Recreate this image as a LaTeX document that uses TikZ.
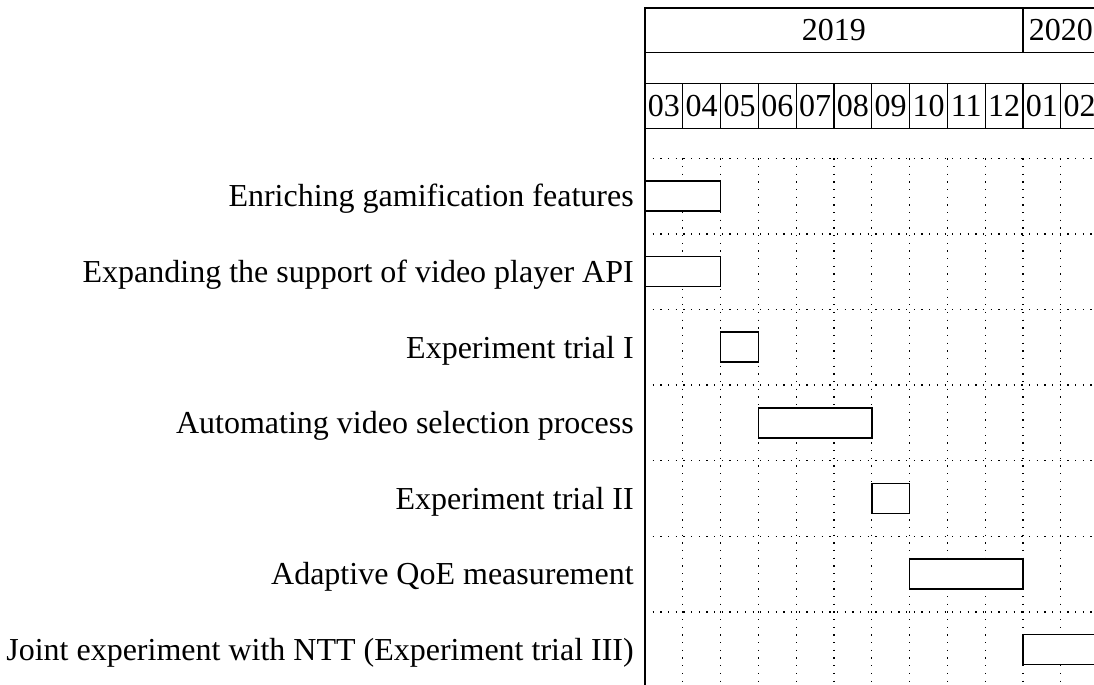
\documentclass[tikz,border=0pt]{standalone}
\usepackage{fontspec}
\setmainfont{Liberation Serif}
\usetikzlibrary{positioning}

\begin{document}
\begin{tikzpicture}[x=0.3125pt, y=-0.3125pt,
    task/.style={anchor=east, font=\fontsize{10}{12}\selectfont, text height=0.7em, text depth=0.2em,
                 yshift=-0.9pt},
    year/.style={rectangle, draw, inner sep=0pt, outer sep=0pt, minimum height=13.97pt,
                 font=\fontsize{10}{12}\selectfont},
    month/.style={rectangle, draw, inner sep=0pt, outer sep=0pt, minimum width=11.8125pt,
                  minimum height=14.06pt, font=\fontsize{10}{12}\selectfont},
    bar/.style={draw, fill=white, line width=0.5pt},
    gridline/.style={dotted, line width=0.4pt}]
    \useasboundingbox (0,0) rectangle (1094,685);

    % Years
    \node[year, minimum width=118.125pt] (y2019) at (833.9, 30.35) {2019};
    \node[year, minimum width=23.625pt] (y2020) at (1060.8, 30.35) {2020};

    % Months
    \node[month] (m03) at (663.9, 105.8) {03};
    \node[month] (m04) at (701.7, 105.8) {04};
    \node[month] (m05) at (739.5, 105.8) {05};
    \node[month] (m06) at (777.3, 105.8) {06};
    \node[month] (m07) at (815.1, 105.8) {07};
    \node[month] (m08) at (852.9, 105.8) {08};
    \node[month] (m09) at (890.7, 105.8) {09};
    \node[month] (m10) at (928.5, 105.8) {10};
    \node[month] (m11) at (966.3, 105.8) {11};
    \node[month] (m12) at (1004.1, 105.8) {12};
    \node[month] (m01) at (1041.9, 105.8) {01};
    \node[month] (m02) at (1079.7, 105.8) {02};

    % Grid
    \draw[gridline] (645,158.3) -- (1098.6,158.3)
                    (645,233.9) -- (1098.6,233.9)
                    (645,309.5) -- (1098.6,309.5)
                    (645,385.1) -- (1098.6,385.1)
                    (645,460.7) -- (1098.6,460.7)
                    (645,536.3) -- (1098.6,536.3)
                    (645,611.9) -- (1098.6,611.9);
    \draw[gridline] (682.8,158.3) -- (682.8,687.5)
                    (720.6,158.3) -- (720.6,687.5)
                    (758.4,158.3) -- (758.4,687.5)
                    (796.2,158.3) -- (796.2,687.5)
                    (834.0,158.3) -- (834.0,687.5)
                    (871.8,158.3) -- (871.8,687.5)
                    (909.6,158.3) -- (909.6,687.5)
                    (947.4,158.3) -- (947.4,687.5)
                    (985.2,158.3) -- (985.2,687.5)
                    (1023.0,158.3) -- (1023.0,687.5)
                    (1060.8,158.3) -- (1060.8,687.5);

    % Tasks
    \node[task] (t1) at (645, 196.1) {Enriching gamification features};
    \node[task] (t2) at (645, 271.7) {Expanding the support of video player API};
    \node[task] (t3) at (645, 347.3) {Experiment trial I};
    \node[task] (t4) at (645, 422.9) {Automating video selection process};
    \node[task] (t5) at (645, 498.5) {Experiment trial II};
    \node[task] (t6) at (645, 574.1) {Adaptive QoE measurement};
    \node[task] (t7) at (645, 649.7) {Joint experiment with NTT (Experiment trial III)};

    % Bars
    \draw[bar] (645, 181.1) rectangle (720.6, 211.1);
    \draw[bar] (645, 256.7) rectangle (720.6, 286.7);
    \draw[bar] (720.6, 332.3) rectangle (758.4, 362.3);
    \draw[bar] (758.4, 407.9) rectangle (871.8, 437.9);
    \draw[bar] (871.8, 483.5) rectangle (909.6, 513.5);
    \draw[bar] (909.6, 559.1) rectangle (1023.0, 589.1);
    \draw[bar] (1023.0, 634.7) rectangle (1098.6, 664.7);

    \draw[line width=0.45pt] (645,8) -- (645,687.5);
\end{tikzpicture}
\end{document}
